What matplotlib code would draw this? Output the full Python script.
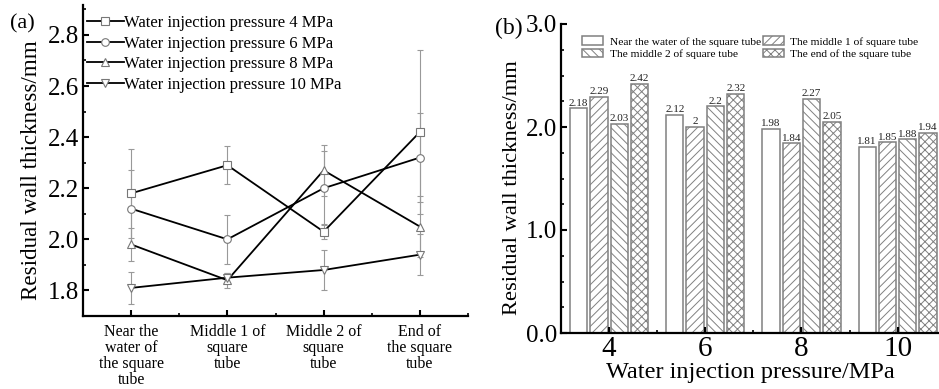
import numpy as np
import matplotlib
matplotlib.use("Agg")
import matplotlib.pyplot as plt
from matplotlib.ticker import MultipleLocator

plt.rcParams['font.family'] = ['Liberation Serif', 'DejaVu Serif']
plt.rcParams['hatch.linewidth'] = 0.7
plt.rcParams['hatch.color'] = '#666666'

############### data ###############
positions = ["Near the\nwater of\nthe square\ntube", "Middle 1 of\nsquare\ntube",
             "Middle 2 of\nsquare\ntube", "End of\nthe square\ntube"]
position_names = ["Near the water of the square tube", "The middle 1 of square tube",
                  "The middle 2 of square tube", "The end of the square tube"]
pressures = [4, 6, 8, 10]

# residual wall thickness (mm) for each pressure, along the tube
thick_4 = [2.18, 2.29, 2.03, 2.42]
thick_6 = [2.12, 2.00, 2.20, 2.32]
thick_8 = [1.98, 1.84, 2.27, 2.05]
thick_10 = [1.81, 1.85, 1.88, 1.94]

# error bars
err_4 = [0.175, 0.075, 0.03, 0.32]
err_6 = [0.15, 0.097, 0.144, 0.175]
err_8 = [0.063, 0.03, 0.10, 0.12]
err_10 = [0.063, 0.02, 0.08, 0.08]

series = [(thick_4, err_4, 's', "Water injection pressure 4 MPa"),
          (thick_6, err_6, 'o', "Water injection pressure 6 MPa"),
          (thick_8, err_8, '^', "Water injection pressure 8 MPa"),
          (thick_10, err_10, 'v', "Water injection pressure 10 MPa")]

fig = plt.figure(figsize=(9.39, 3.89), dpi=100)

########### (a) line chart ##########
ax1 = fig.add_axes([83/939, 1-316/389, 385/939, 311/389])
xpos = np.arange(1, len(positions)+1)
for vals, errs, mk, lab in series:
    ax1.errorbar(xpos, vals, yerr=errs, fmt='none', ecolor='#999999',
                 elinewidth=0.8, capsize=2.5, capthick=0.8, zorder=1)
    ax1.plot(xpos, vals, color='black', lw=1.3, marker=mk, markersize=5.5,
             markerfacecolor='white', markeredgecolor='#777777',
             markeredgewidth=0.8, label=lab, zorder=2)

ax1.set_xlim(0.5, 4.5)
ax1.set_ylim(1.70, 2.917)
ax1.set_xticks(xpos)
ax1.set_xticklabels(positions, fontsize=11.5, linespacing=1.0)
ax1.xaxis.set_minor_locator(MultipleLocator(0.5))
ax1.yaxis.set_major_locator(MultipleLocator(0.2))
ax1.yaxis.set_minor_locator(MultipleLocator(0.1))
ax1.tick_params(axis='y', labelsize=18)
ax1.set_ylabel("Residual wall thickness/mm", fontsize=16.6)
ax1.yaxis.set_label_coords(-0.106, 0.469)

ax1.legend(loc='upper left', bbox_to_anchor=(0.01, 0.967), frameon=False,
           fontsize=12, handlelength=2.2, handletextpad=0.05,
           labelspacing=0.27, borderpad=0, borderaxespad=0)
ax1.text(-0.19, 0.94, "(a)", transform=ax1.transAxes, fontsize=16, va='center')

########### (b) bar chart ##########
ax2 = fig.add_axes([561/939, 1-333/389, 378/939, 309/389])
gpos = np.arange(len(pressures))
by_position = np.array([thick_4, thick_6, thick_8, thick_10]).T
hatches = ['', '////', '\\\\\\\\', 'xxxx']
step = 0.211
width = 0.18
handles = []
for i, (row, name, h) in enumerate(zip(by_position, position_names, hatches)):
    bars = ax2.bar(gpos + (i - 1.5)*step, row, width, facecolor='white',
                   edgecolor='#808080', linewidth=1.1, hatch=h, label=name)
    ax2.bar_label(bars, labels=[f"{v:g}" for v in row], padding=0.5,
                  fontsize=8, color='#222222')
    handles.append(bars)

ax2.set_xlim(-0.5, 3.43)
ax2.set_ylim(0, 3.0)
ax2.set_xticks(gpos)
ax2.set_xticklabels([str(p) for p in pressures], fontsize=21)
ax2.xaxis.set_minor_locator(MultipleLocator(1.0, offset=0.5))
ax2.yaxis.set_major_locator(MultipleLocator(1.0))
ax2.yaxis.set_minor_locator(MultipleLocator(0.25))
ax2.yaxis.set_major_formatter(matplotlib.ticker.FormatStrFormatter('%.1f'))
ax2.tick_params(axis='y', labelsize=18)
ax2.set_ylabel("Residual wall thickness/mm", fontsize=16.2)
ax2.yaxis.set_label_coords(-0.103, 0.472)
ax2.set_xlabel("Water injection pressure/MPa", fontsize=17.5, labelpad=0)

order = [0, 2, 1, 3]
ax2.legend([handles[k] for k in order], [position_names[k] for k in order],
           ncol=2, loc='upper left', bbox_to_anchor=(0.055, 0.96), frameon=False,
           fontsize=8.2, handlelength=1.85, handleheight=0.75, handletextpad=0.6,
           labelspacing=0.22, columnspacing=0.15, borderpad=0, borderaxespad=0)
ax2.text(-0.175, 0.985, "(b)", transform=ax2.transAxes, fontsize=17, va='center')

for ax in (ax1, ax2):
    ax.spines['top'].set_visible(False)
    ax.spines['right'].set_visible(False)
    ax.spines['left'].set_linewidth(1.6)
    ax.spines['bottom'].set_linewidth(1.6)
    ax.tick_params(which='major', direction='in', length=4, width=1.5, pad=3)
    ax.tick_params(which='minor', direction='in', length=2.5, width=1.2)

ax1.tick_params(axis='x', which='major', pad=6)
ax2.tick_params(axis='x', which='major', pad=2)

fig.savefig("out.png", dpi=100)
